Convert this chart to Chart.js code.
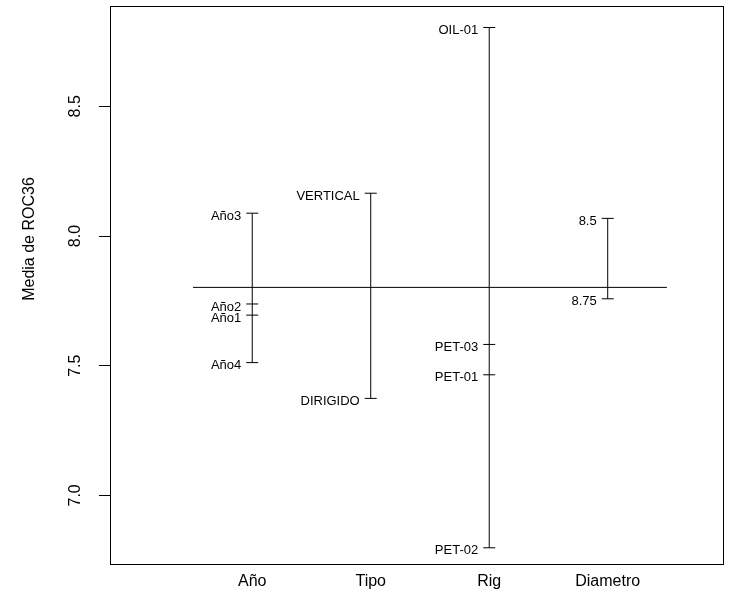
<!DOCTYPE html>
<html>
<head>
<meta charset="utf-8">
<script src="https://cdn.jsdelivr.net/npm/chart.js@4.4.1/dist/chart.umd.min.js"></script>
<style>
  html, body { margin: 0; padding: 0; background: #fff; }
  #wrap { width: 741px; height: 596px; }
</style>
</head>
<body>
<div id="wrap"><canvas id="c" width="741" height="596"></canvas></div>
<script>
// ---- data ----
const factorNames = ['Año', 'Tipo', 'Rig', 'Diametro'];
const grandMean = 7.802;
const anoLevels = ['Año3', 'Año2', 'Año1', 'Año4'];
const anoMeans = [8.088, 7.738, 7.695, 7.512];
const tipoLevels = ['VERTICAL', 'DIRIGIDO'];
const tipoMeans = [8.165, 7.374];
const rigLevels = ['OIL-01', 'PET-03', 'PET-01', 'PET-02'];
const rigMeans = [8.804, 7.582, 7.465, 6.798];
const diamLevels = ['8.5', '8.75'];
const diamMeans = [8.068, 7.758];
const yTickValues = [7.0, 7.5, 8.0, 8.5];
const yTickLabels = ['7.0', '7.5', '8.0', '8.5'];
const yTitle = 'Media de ROC36';

const groups = [
  { levels: anoLevels, means: anoMeans },
  { levels: tipoLevels, means: tipoMeans },
  { levels: rigLevels, means: rigMeans },
  { levels: diamLevels, means: diamMeans }
];

const FONT = '"Liberation Sans", Arial, Helvetica, sans-serif';

const datasets = [];
// grand mean line
datasets.push({
  data: [{ x: 0.5, y: grandMean }, { x: factorNames.length + 0.5, y: grandMean }],
  borderColor: '#000', borderWidth: 1, pointRadius: 0, showLine: true, fill: false
});
groups.forEach((g, i) => {
  const pts = g.means.map(v => ({ x: i + 1, y: v }));
  // vertical range line
  datasets.push({
    data: [{ x: i + 1, y: Math.min(...g.means) }, { x: i + 1, y: Math.max(...g.means) }],
    borderColor: '#000', borderWidth: 1, pointRadius: 0, showLine: true, fill: false
  });
  // level tick marks
  datasets.push({
    data: pts,
    showLine: false,
    pointStyle: 'line',
    pointRadius: 6,
    pointBorderWidth: 1,
    pointBorderColor: '#000',
    pointBackgroundColor: '#000'
  });
});

const labelPlugin = {
  id: 'levelLabels',
  afterDatasetsDraw(chart) {
    const { ctx, scales: { x, y }, chartArea } = chart;
    ctx.save();
    ctx.fillStyle = '#000';
    ctx.font = '13px ' + FONT;
    ctx.textAlign = 'right';
    ctx.textBaseline = 'middle';
    groups.forEach((g, i) => {
      const px = x.getPixelForValue(i + 1);
      g.levels.forEach((lab, j) => {
        ctx.fillText(lab, px - 11, y.getPixelForValue(g.means[j]) + 3);
      });
    });
    // axis title (y)
    ctx.font = '16px ' + FONT;
    ctx.textAlign = 'center';
    ctx.textBaseline = 'middle';
    ctx.translate(30, 239);
    ctx.rotate(-Math.PI / 2);
    ctx.fillText(yTitle, 0, 0);
    ctx.setTransform(1, 0, 0, 1, 0, 0);
    // frame
    ctx.strokeStyle = '#000';
    ctx.lineWidth = 1;
    ctx.strokeRect(Math.round(chartArea.left) - 0.5, Math.round(chartArea.top) - 0.5,
      Math.round(chartArea.right - chartArea.left) + 1, Math.round(chartArea.bottom - chartArea.top) + 1);
    ctx.restore();
  }
};

new Chart(document.getElementById('c'), {
  type: 'scatter',
  data: { datasets },
  options: {
    responsive: false,
    animation: false,
    layout: { padding: { top: 7, right: 18, left: 0, bottom: 0 } },
    plugins: { legend: { display: false }, tooltip: { enabled: false } },
    scales: {
      x: {
        type: 'linear',
        min: -0.192, max: 4.973,
        border: { display: false },
        grid: { display: false },
        afterBuildTicks(scale) { scale.ticks = factorNames.map((n, i) => ({ value: i + 1 })); },
        afterFit(scale) { scale.height = 32; scale.paddingLeft = 0; scale.paddingRight = 0; },
        ticks: {
          autoSkip: false, maxRotation: 0, minRotation: 0, padding: 0,
          color: '#000', font: { family: FONT, size: 16 },
          callback(v) { return factorNames[Math.round(v) - 1]; }
        }
      },
      y: {
        type: 'linear',
        min: 6.7355, max: 8.883,
        border: { display: false },
        grid: { display: true, drawOnChartArea: false, drawTicks: true, tickLength: 12, color: '#000', lineWidth: 1 },
        afterBuildTicks(scale) { scale.ticks = yTickValues.map(v => ({ value: v })); },
        afterFit(scale) { scale.width = 111; scale.paddingTop = 0; scale.paddingBottom = 0; },
        ticks: {
          autoSkip: false, minRotation: 90, maxRotation: 90, padding: 12, crossAlign: 'center',
          color: '#000', font: { family: FONT, size: 16 },
          callback(v) { return yTickLabels[yTickValues.indexOf(v)]; }
        }
      }
    }
  },
  plugins: [labelPlugin]
});
</script>
</body>
</html>
